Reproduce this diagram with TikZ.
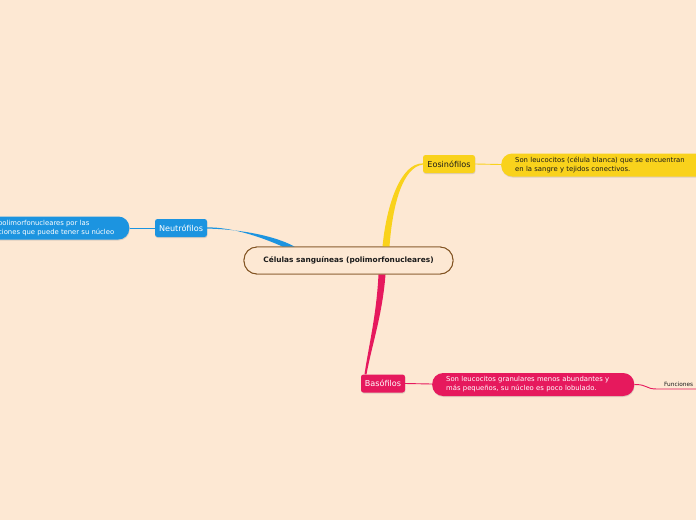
\documentclass[tikz,border=0pt]{standalone}
\usepackage{fontspec}
\setmainfont{DejaVu Sans}
\usetikzlibrary{calc,shadows}
\definecolor{bg}{HTML}{FDE8D3}
\definecolor{cbord}{HTML}{80511F}
\definecolor{yel}{HTML}{F9D21C}
\definecolor{blu}{HTML}{1C94E0}
\definecolor{pnk}{HTML}{E6195D}
\definecolor{dark}{HTML}{1A1A1A}
\tikzset{
  central/.style={draw=cbord, line width=0.9pt, fill=bg, rounded corners=13pt,
    minimum width=209pt, minimum height=27pt, inner sep=0pt,
    font=\fontsize{7.4}{8}\selectfont\bfseries, text=dark},
  topic/.style={rounded corners=2.5pt, minimum height=18pt, inner sep=0pt,
    font=\fontsize{8.1}{9}\selectfont,
    drop shadow={opacity=0.25, shadow xshift=0.4pt, shadow yshift=-1pt}},
  desc/.style={rounded corners=11pt, minimum height=23pt, inner ysep=0pt,
    align=left, font=\fontsize{6.85}{9}\selectfont,
    drop shadow={opacity=0.25, shadow xshift=0.4pt, shadow yshift=-1pt}},
  link/.style={line width=0.9pt},
}
\begin{document}
\begin{tikzpicture}[x=1pt,y=-1pt]
\useasboundingbox (0,0) rectangle (696,520);
\clip (0,0) rectangle (696,520);
\fill[bg] (0,0) rectangle (696,520);

% central node
\node[central] (c) at (348.5,260.5) {Células sanguíneas (polimorfonucleares)};

% topics
\node[topic, fill=yel, text=dark, minimum width=52pt] (eo) at (449,164) {Eosinófilos};
\node[topic, fill=blu, text=white, minimum width=52pt] (ne) at (181,228) {Neutrófilos};
\node[topic, fill=pnk, text=white, minimum width=44pt] (ba) at (383,383.5) {Basófilos};

% descriptions
\node[desc, fill=yel, text=dark, anchor=west, minimum width=215pt, inner xsep=14pt,
  text width=187pt] (eod) at (501,165)
  {Son leucocitos (célula blanca) que se encuentran\\en la sangre y tejidos conectivos.};
\node[desc, fill=blu, text=white, anchor=east, inner xsep=15pt] (ned) at (129.5,228)
  {polimorfonucleares por las\\ciones que puede tener su núcleo};
\node[desc, fill=pnk, text=white, anchor=west, minimum width=202pt, inner xsep=14pt,
  text width=174pt] (bad) at (432,384.5)
  {Son leucocitos granulares menos abundantes y\\más pequeños, su núcleo es poco lobulado.};
\node[anchor=south west, inner xsep=7pt, inner ysep=2pt, text width=40pt, align=left,
  font=\fontsize{5.8}{6}\selectfont, text=dark] (fn) at (657,389) {Funciones};

% connectors topic -> description
\draw[link, yel] (eo.east) -- ($(eod.west)+(0,-0.5)$);
\draw[link, blu] (ned.east) -- (ne.west);
\draw[link, pnk] (ba.east) -- ($(bad.west)+(0,-0.5)$);
\draw[link, pnk] (bad.east) .. controls ($(bad.east)+(14,0)$) and ($(fn.south west)+(-12,0)$) .. (fn.south west) -- (fn.south east);

% tapered branches from central node
\coordinate (ey1) at ($(c.north)+(34,0)$);
\coordinate (ey2) at ($(c.north)+(41,0)$);
\fill[yel] (ey1) .. controls ($(ey1)+(4,-42)$) and ($(eo.west)+(-22,-1)$) .. ($(eo.west)+(0,-0.6)$)
  -- ($(eo.west)+(0,0.6)$) .. controls ($(eo.west)+(-20,3)$) and ($(ey2)+(3,-42)$) .. (ey2) -- cycle;

\coordinate (nb1) at ($(c.north)+(-66,0)$);
\coordinate (nb2) at ($(c.north)+(-54,0)$);
\fill[blu] (nb1) .. controls ($(nb1)+(-20,-9)$) and ($(ne.east)+(25,-1)$) .. ($(ne.east)+(0,-0.6)$)
  -- ($(ne.east)+(0,0.6)$) .. controls ($(ne.east)+(28,1)$) and ($(nb2)+(-22,-12)$) .. (nb2) -- cycle;

\coordinate (pb1) at ($(c.south)+(30,0)$);
\coordinate (pb2) at ($(c.south)+(37,0)$);
\fill[pnk] (pb1) .. controls ($(pb1)+(-2,40)$) and ($(ba.north)+(-14,-30)$) .. ($(ba.north)+(-18.5,0)$)
  -- ($(ba.north)+(-16.5,0)$) .. controls ($(ba.north)+(-11,-30)$) and ($(pb2)+(-3,40)$) .. (pb2) -- cycle;

% redraw central on top of branch roots
\node[central] at (c) {Células sanguíneas (polimorfonucleares)};
\end{tikzpicture}
\end{document}
